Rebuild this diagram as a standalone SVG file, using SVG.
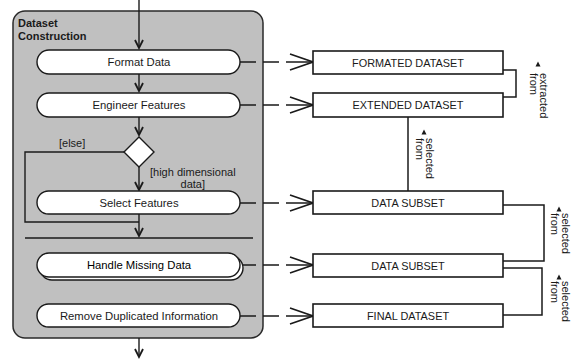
<svg xmlns="http://www.w3.org/2000/svg" width="575" height="359" viewBox="0 0 575 359">
<style>
  text { font-family: "Liberation Sans", Arial, sans-serif; font-size: 11px; fill: #1a1a1a; }
  .title { font-weight: bold; }
  .pt { font-size: 11.3px; text-anchor: middle; }
  .bt { font-size: 10.9px; text-anchor: middle; }
  .pill { fill: #ffffff; stroke: #1a1a1a; stroke-width: 1.4; }
  .box { fill: #ffffff; stroke: #1a1a1a; stroke-width: 1.6; }
  .flow { fill: none; stroke: #1a1a1a; stroke-width: 1.4; }
  .obj { fill: none; stroke: #1a1a1a; stroke-width: 1.5; stroke-dasharray: 16 7 16 7 27 10; }
  .link { fill: none; stroke: #1a1a1a; stroke-width: 1.5; }
  .tri { fill: #1a1a1a; }
</style>
<defs>
  <marker id="ah" markerUnits="userSpaceOnUse" viewBox="-10 -6 12 12" markerWidth="12" markerHeight="12" refX="0" refY="0" orient="auto">
    <path d="M-8,-4 L0,0 L-8,4" fill="none" stroke="#1a1a1a" stroke-width="1.8"/>
  </marker>
  <marker id="oh" markerUnits="userSpaceOnUse" viewBox="-26 -10 28 20" markerWidth="28" markerHeight="20" refX="0" refY="0" orient="auto">
    <path d="M-23,-8 L0,0 L-23,8" fill="none" stroke="#1a1a1a" stroke-width="1.6"/>
  </marker>
</defs>
<rect width="575" height="359" fill="#ffffff"/>

<g id="container">
  <rect x="13" y="11" width="250" height="327" rx="12" ry="12" fill="#c0c0c0" stroke="#2a2a2a" stroke-width="1.5"/>
  <text class="title" x="18" y="27">Dataset</text>
  <text class="title" x="18" y="40">Construction</text>
</g>

<g id="connectors">
  <path class="flow" d="M139,0 V48" marker-end="url(#ah)"/>
  <path class="flow" d="M139,74 V91" marker-end="url(#ah)"/>
  <path class="flow" d="M139,117 V135" marker-end="url(#ah)"/>
  <path class="flow" d="M139,167 V190" marker-end="url(#ah)"/>
  <path class="flow" d="M139,214 V236" marker-end="url(#ah)"/>
  <path class="flow" d="M124,152 H25 V222 H139"/>
  <path class="flow" d="M25,238 H253" stroke-width="1.6"/>
  <path class="flow" d="M139,338 V357" marker-end="url(#ah)"/>
  <path class="obj" d="M240,62 H313" marker-end="url(#oh)"/>
  <path class="obj" d="M240,105 H313" marker-end="url(#oh)"/>
  <path class="obj" d="M240,203 H313" marker-end="url(#oh)"/>
  <path class="obj" d="M240,265 H313" marker-end="url(#oh)"/>
  <path class="obj" d="M240,316 H313" marker-end="url(#oh)"/>
  <path class="link" d="M503,70 H516 V97 H503"/>
  <path class="link" d="M408,117 V191"/>
  <path class="link" d="M503,205 H544 V261 H503"/>
  <path class="link" d="M503,268 H542 V315 H503"/>
</g>

<g id="format-data">
  <rect class="pill" x="37" y="50" width="203" height="24" rx="12" ry="12"/>
  <text class="pt" x="139" y="66">Format Data</text>
</g>
<g id="engineer-features">
  <rect class="pill" x="37" y="93" width="203" height="24" rx="12" ry="12"/>
  <text class="pt" x="139" y="109">Engineer Features</text>
</g>
<g id="decision">
  <polygon points="139,137 154,152 139,167 124,152" fill="#ffffff" stroke="#1a1a1a" stroke-width="1.4"/>
  <text x="59" y="147">[else]</text>
  <text x="150" y="176">[high dimensional</text>
  <text x="205" y="188" text-anchor="end">data]</text>
</g>
<g id="select-features">
  <rect class="pill" x="37" y="191" width="203" height="23" rx="11.5" ry="11.5"/>
  <text class="pt" x="139" y="207">Select Features</text>
</g>
<g id="handle-missing-data">
  <rect class="pill" x="40" y="256" width="203" height="24" rx="12" ry="12"/>
  <rect class="pill" x="37" y="253" width="203" height="24" rx="12" ry="12"/>
  <text class="pt" x="139" y="269" style="fill:#000">Handle Missing Data</text>
</g>
<g id="remove-duplicated">
  <rect class="pill" x="37" y="304" width="203" height="23" rx="11.5" ry="11.5"/>
  <text class="pt" x="139" y="320">Remove Duplicated Information</text>
</g>

<g id="formated-dataset">
  <rect class="box" x="313" y="51" width="190" height="23"/>
  <text class="bt" x="408" y="66.5">FORMATED DATASET</text>
</g>
<g id="extended-dataset">
  <rect class="box" x="313" y="93" width="190" height="24"/>
  <text class="bt" x="408" y="109">EXTENDED DATASET</text>
</g>
<g id="data-subset-1">
  <rect class="box" x="313" y="191" width="190" height="23"/>
  <text class="bt" x="408" y="206.5">DATA SUBSET</text>
</g>
<g id="data-subset-2">
  <rect class="box" x="313" y="254" width="190" height="23"/>
  <text class="bt" x="408" y="269.5">DATA SUBSET</text>
</g>
<g id="final-dataset">
  <rect class="box" x="313" y="304" width="190" height="23"/>
  <text class="bt" x="408" y="319.5">FINAL DATASET</text>
</g>

<g id="label-extracted">
  <polygon class="tri" points="535.5,66.5 538,61.5 540.5,66.5"/>
  <text transform="translate(540,73) rotate(90)"><tspan x="0" y="0">extracted</tspan><tspan x="0" y="10">from</tspan></text>
</g>
<g id="label-selected-1">
  <polygon class="tri" points="421.5,134.5 424,129.5 426.5,134.5"/>
  <text transform="translate(426,138) rotate(90)"><tspan x="0" y="0">selected</tspan><tspan x="0" y="10">from</tspan></text>
</g>
<g id="label-selected-2">
  <polygon class="tri" points="556.5,211.5 559,206.5 561.5,211.5"/>
  <text transform="translate(562,213) rotate(90)"><tspan x="0" y="0">selected</tspan><tspan x="0" y="11">from</tspan></text>
</g>
<g id="label-selected-3">
  <polygon class="tri" points="556.5,279.5 559,274.5 561.5,279.5"/>
  <text transform="translate(562,281) rotate(90)"><tspan x="0" y="0">selected</tspan><tspan x="0" y="11">from</tspan></text>
</g>
</svg>
